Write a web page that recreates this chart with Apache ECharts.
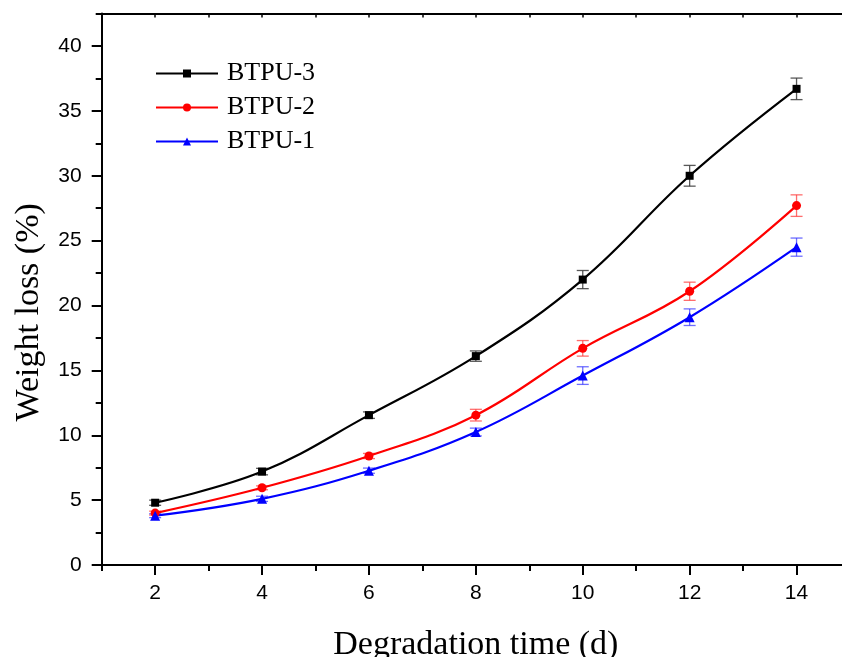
<!DOCTYPE html>
<html>
<head>
<meta charset="utf-8">
<script src="https://cdn.jsdelivr.net/npm/echarts@6/dist/echarts.min.js"></script>
<style>
html,body{margin:0;padding:0;background:#fff;}
#chart{width:842px;height:657px;}
</style>
</head>
<body>
<div id="chart"></div>
<script>
const days = [2, 4, 6, 8, 10, 12, 14];
const btpu3 = [4.8, 7.2, 11.55, 16.1, 22.0, 30.0, 36.7];
const btpu2 = [4.0, 5.95, 8.4, 11.55, 16.7, 21.1, 27.7];
const btpu1 = [3.8, 5.1, 7.27, 10.25, 14.6, 19.1, 24.5];
const err3 = [0.2, 0.25, 0.25, 0.4, 0.7, 0.8, 0.83];
const err2 = [0.15, 0.15, 0.2, 0.45, 0.6, 0.7, 0.83];
const err1 = [0.15, 0.2, 0.2, 0.3, 0.68, 0.64, 0.7];
const xMajorTicks = [2, 4, 6, 8, 10, 12, 14];
const xMinorTicks = [1, 3, 5, 7, 9, 11, 13, 15];
const xTopTicks = [2, 3, 4, 5, 6, 7, 8, 9, 10, 11, 12, 13, 14];
const yMajorTicks = [0, 5, 10, 15, 20, 25, 30, 35, 40];
const yMinorTicks = [2.5, 7.5, 12.5, 17.5, 22.5, 27.5, 32.5, 37.5, 42.5];

const chart = echarts.init(document.getElementById('chart'), null, {renderer: 'canvas'});

function pairs(xs, ys) { return xs.map((x, i) => [x, ys[i]]); }
function triples(xs, ys, es) { return xs.map((x, i) => [x, ys[i], es[i]]); }

function errSeries(data, color) {
  return {
    type: 'custom',
    xAxisIndex: 0, yAxisIndex: 0,
    z: 1,
    silent: true,
    data: data,
    renderItem: function (params, api) {
      const x = api.value(0), y = api.value(1), e = api.value(2);
      const hi = api.coord([x, y + e]);
      const lo = api.coord([x, y - e]);
      const w = 6;
      const st = {stroke: color, lineWidth: 1.3};
      return {
        type: 'group',
        children: [
          {type: 'line', shape: {x1: hi[0], y1: hi[1], x2: lo[0], y2: lo[1]}, style: st},
          {type: 'line', shape: {x1: hi[0] - w, y1: hi[1], x2: hi[0] + w, y2: hi[1]}, style: st},
          {type: 'line', shape: {x1: lo[0] - w, y1: lo[1], x2: lo[0] + w, y2: lo[1]}, style: st}
        ]
      };
    }
  };
}

const axisLineStyle = {color: '#000', width: 2};
const labelFont = {color: '#000', fontSize: 21, fontFamily: 'Liberation Sans, Arial, sans-serif'};
const titleFont = {color: '#000', fontSize: 34, fontFamily: 'Liberation Serif, Times New Roman, serif'};

const option = {
  backgroundColor: '#fff',
  animation: false,
  grid: {left: 101.7, width: 748.3, top: 13.6, height: 551.4, outerBoundsMode: 'none', containLabel: false},
  legend: {
    orient: 'vertical',
    left: 150,
    top: 55,
    itemWidth: 62,
    itemHeight: 10,
    itemGap: 7,
    data: ['BTPU-3', 'BTPU-2', 'BTPU-1'],
    textStyle: {color: '#000', fontSize: 26, fontFamily: 'Liberation Serif, Times New Roman, serif', lineHeight: 27, padding: [0, 0, 0, 4]}
  },
  xAxis: [
    {
      type: 'value', position: 'bottom', min: 1, max: 15,
      axisLine: {show: true, lineStyle: axisLineStyle},
      axisTick: {show: true, customValues: xMajorTicks, length: 10, lineStyle: {width: 2, color: '#000'}},
      axisLabel: Object.assign({customValues: xMajorTicks, margin: 18}, labelFont),
      splitLine: {show: false},
      name: 'Degradation time (d)',
      nameLocation: 'middle',
      nameGap: 63,
      nameTextStyle: titleFont
    },
    {
      type: 'value', position: 'bottom', min: 1, max: 15,
      axisLine: {show: false},
      axisTick: {show: true, customValues: xMinorTicks, length: 6, lineStyle: {width: 2, color: '#000'}},
      axisLabel: {show: false},
      splitLine: {show: false}
    },
    {
      type: 'value', position: 'top', min: 1, max: 15,
      axisLine: {show: true, lineStyle: axisLineStyle},
      axisTick: {show: true, inside: true, customValues: xTopTicks, length: 4, lineStyle: {width: 1.5, color: '#000'}},
      axisLabel: {show: false},
      splitLine: {show: false}
    }
  ],
  yAxis: [
    {
      type: 'value', position: 'left', min: 0, max: 42.5,
      axisLine: {show: true, lineStyle: axisLineStyle},
      axisTick: {show: true, customValues: yMajorTicks, length: 10, lineStyle: {width: 2, color: '#000'}},
      axisLabel: Object.assign({customValues: yMajorTicks, margin: 20}, labelFont),
      splitLine: {show: false},
      name: 'Weight loss (%)',
      nameLocation: 'middle',
      nameGap: 56,
      nameTextStyle: Object.assign({padding: [0, 46, 0, 0]}, titleFont)
    },
    {
      type: 'value', position: 'left', min: 0, max: 42.5,
      axisLine: {show: false},
      axisTick: {show: true, customValues: yMinorTicks, length: 6, lineStyle: {width: 2, color: '#000'}},
      axisLabel: {show: false},
      splitLine: {show: false}
    }
  ],
  series: [
    errSeries(triples(days, btpu3, err3), 'rgba(60,60,60,0.85)'),
    errSeries(triples(days, btpu2, err2), 'rgba(255,60,60,0.75)'),
    errSeries(triples(days, btpu1, err1), 'rgba(60,60,255,0.75)'),
    {
      name: 'BTPU-3', type: 'line', xAxisIndex: 0, yAxisIndex: 0, z: 3,
      data: pairs(days, btpu3), smooth: 0.4,
      symbol: 'rect', symbolSize: 8,
      lineStyle: {color: '#000', width: 2.2}, itemStyle: {color: '#000'}
    },
    {
      name: 'BTPU-2', type: 'line', xAxisIndex: 0, yAxisIndex: 0, z: 3,
      data: pairs(days, btpu2), smooth: 0.4,
      symbol: 'circle', symbolSize: 9,
      lineStyle: {color: '#ff0000', width: 2.2}, itemStyle: {color: '#ff0000'}
    },
    {
      name: 'BTPU-1', type: 'line', xAxisIndex: 0, yAxisIndex: 0, z: 3,
      data: pairs(days, btpu1), smooth: 0.4,
      symbol: 'triangle', symbolSize: 10,
      lineStyle: {color: '#0000ff', width: 2.2}, itemStyle: {color: '#0000ff'}
    }
  ]
};
chart.setOption(option);
</script>
</body>
</html>
